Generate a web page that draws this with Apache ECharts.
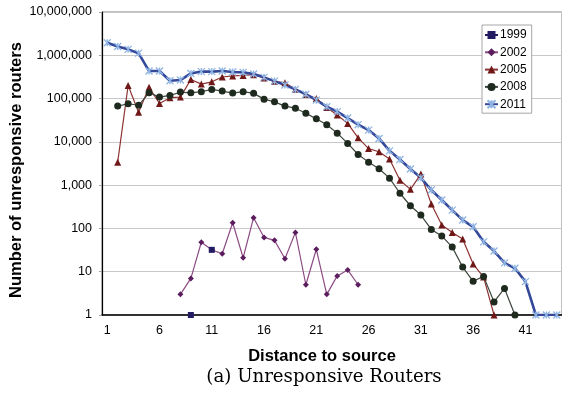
<!DOCTYPE html>
<html>
<head>
<meta charset="utf-8">
<script src="https://cdn.jsdelivr.net/npm/echarts@6/dist/echarts.min.js"></script>
<style>
  html, body { margin: 0; padding: 0; background: #fff; }
  #chart { width: 562px; height: 393px; }
</style>
</head>
<body>
<div id="chart"></div>
<script>
// distance to source, 1..44
var hops = [];
for (var i = 1; i <= 44; i++) hops.push(String(i));

// values read off the log scale, null = no point
var y1999 = [null,null,null,null,null,null,null,null,1,null,32];
var y2002 = [null,null,null,null,null,null,null,3,7,48,32,26,135,21,177,62,53,20,81,5,33,3,8,11,5];
var y2005 = [null,3400,200000,48000,182000,77000,105000,108000,276000,216000,244000,315000,333000,343000,355000,
  300000,250000,232000,165000,125000,100000,62000,41600,26700,12400,7000,5900,4000,1300,800,1800,365,120,81,57,15,7.5,1];
var y2008 = [null,67000,76000,70000,136000,108000,118000,141000,136000,144000,163000,149000,134000,144000,132000,
  97000,84000,67000,60000,46000,34000,24800,15900,9200,5100,3400,2400,1450,650,334,204,95,67,37,12.8,6,7.8,2,4.1,1];
var y2011 = [1940000,1600000,1370000,1120000,432000,432000,258000,268000,381000,420000,420000,432000,410000,403000,368000,
  309000,253000,205000,163000,126000,92000,65000,50000,35500,25000,18700,12000,6200,3900,2350,1480,
  770,455,265,156,109,49,30,16,12,5.9,1,1,1];

var sans = "'Liberation Sans', Arial, sans-serif";
var star = 'path://M0,0L10,10M10,0L0,10M5,0L5,10';

var chart = echarts.init(document.getElementById('chart'));
chart.setOption({
    animation: false,
    textStyle: { fontFamily: sans },
    grid: {
        left: 102, right: -1, top: 12, bottom: 78,
        show: true, borderColor: '#808080', borderWidth: 1
    },
    legend: {
        orient: 'vertical',
        left: 482, top: 25,
        itemWidth: 13, itemHeight: 10, itemGap: 5.3,
        padding: [4, 5, 3, 2],
        borderColor: '#a6a6a6', borderWidth: 1,
        backgroundColor: '#fff',
        textStyle: { fontSize: 12, color: '#000', fontFamily: sans, padding: [0, 0, 0, -3] },
        data: ['1999', '2002', '2005', '2008', '2011']
    },
    xAxis: {
        type: 'category',
        data: hops,
        boundaryGap: true,
        axisLine: { lineStyle: { color: '#000', width: 1.5 } },
        axisTick: { interval: 0, length: 4, lineStyle: { color: '#000' } },
        axisLabel: { interval: 4, margin: 9, fontSize: 12.5, color: '#000', fontFamily: sans },
        splitLine: { show: false }
    },
    yAxis: {
        type: 'log',
        logBase: 10,
        min: 1,
        max: 10000000,
        axisLine: { show: true, lineStyle: { color: '#000', width: 1.2 } },
        axisTick: { show: true, length: 3, lineStyle: { color: '#a0a0a0' } },
        axisLabel: {
            margin: 10, fontSize: 12.5, color: '#000', fontFamily: sans,
            formatter: function (v) { return Math.round(v).toLocaleString('en-US'); }
        },
        splitLine: { lineStyle: { color: '#c8c8c8', width: 1 } }
    },
    series: [
        {
            name: '1999', type: 'line', data: y1999, z: 5,
            symbol: 'rect', symbolSize: 6, showAllSymbol: true,
            itemStyle: { color: '#231c63', borderWidth: 0 },
            lineStyle: { color: '#231c63', width: 1.2 }
        },
        {
            name: '2002', type: 'line', data: y2002,
            symbol: 'diamond', symbolSize: 6, showAllSymbol: true,
            itemStyle: { color: '#5c1d5e', borderWidth: 0 },
            lineStyle: { color: '#8c4c84', width: 1.2 }
        },
        {
            name: '2005', type: 'line', data: y2005,
            symbol: 'triangle', symbolSize: 7, showAllSymbol: true,
            itemStyle: { color: '#701818', borderWidth: 0 },
            lineStyle: { color: '#8e3232', width: 1.2 }
        },
        {
            name: '2008', type: 'line', data: y2008,
            symbol: 'circle', symbolSize: 7, showAllSymbol: true,
            itemStyle: { color: '#1e2a1e', borderWidth: 0 },
            lineStyle: { color: '#3c463c', width: 1.2 }
        },
        {
            name: '2011', type: 'line', data: y2011,
            symbol: star, symbolSize: 7, showAllSymbol: true,
            itemStyle: { color: '#8fb4e3', borderColor: '#8fb4e3', borderWidth: 1.3 },
            lineStyle: { color: '#34489a', width: 2.6 }
        }
    ],
    graphic: [
        {
            type: 'text', x: 16, y: 170, rotation: Math.PI / 2,
            style: {
                text: 'Number of unresponsive routers', fill: '#000',
                font: 'bold 16.5px ' + sans,
                textAlign: 'center', textVerticalAlign: 'middle', align: 'center', verticalAlign: 'middle'
            }
        },
        {
            type: 'text', x: 322, y: 356,
            style: {
                text: 'Distance to source', fill: '#000',
                font: 'bold 16.5px ' + sans,
                textAlign: 'center', textVerticalAlign: 'middle', align: 'center', verticalAlign: 'middle'
            }
        },
        {
            type: 'text', x: 324, y: 377,
            style: {
                text: '(a) Unresponsive Routers', fill: '#000',
                font: "18.2px 'DejaVu Serif', serif",
                textAlign: 'center', textVerticalAlign: 'middle', align: 'center', verticalAlign: 'middle'
            }
        }
    ]
});
</script>
</body>
</html>
